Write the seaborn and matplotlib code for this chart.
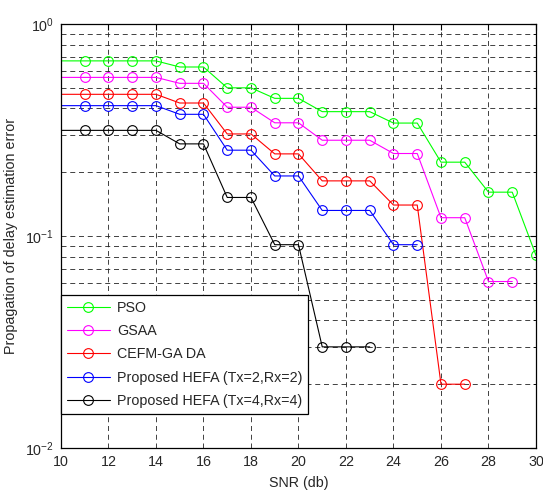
import numpy as np
import pandas as pd
import seaborn as sns
import matplotlib.pyplot as plt
from matplotlib.ticker import LogLocator

# SNR points (line starts at 10, markers from 11)
snr_pso = [10, 11, 12, 13, 14, 15, 16, 17, 18, 19, 20, 21, 22, 23, 24, 25, 26, 27, 28, 29, 30]
pso = [0.67, 0.67, 0.67, 0.67, 0.67, 0.627, 0.627, 0.50, 0.50, 0.446, 0.446,
       0.386, 0.386, 0.386, 0.341, 0.341, 0.223, 0.223, 0.161, 0.161, 0.081]

snr_gsaa = [10, 11, 12, 13, 14, 15, 16, 17, 18, 19, 20, 21, 22, 23, 24, 25, 26, 27, 28, 29]
gsaa = [0.56, 0.56, 0.56, 0.56, 0.56, 0.525, 0.525, 0.405, 0.405, 0.342, 0.342,
        0.283, 0.283, 0.283, 0.245, 0.245, 0.122, 0.122, 0.061, 0.061]

snr_cefm = [10, 11, 12, 13, 14, 15, 16, 17, 18, 19, 20, 21, 22, 23, 24, 25, 26, 27]
cefm = [0.466, 0.466, 0.466, 0.466, 0.466, 0.424, 0.424, 0.303, 0.303, 0.244, 0.244,
        0.182, 0.182, 0.182, 0.140, 0.140, 0.020, 0.020]

snr_hefa2 = [10, 11, 12, 13, 14, 15, 16, 17, 18, 19, 20, 21, 22, 23, 24, 25]
hefa2 = [0.412, 0.412, 0.412, 0.412, 0.412, 0.375, 0.375, 0.254, 0.254, 0.192, 0.192,
         0.132, 0.132, 0.132, 0.091, 0.091]

snr_hefa4 = [10, 11, 12, 13, 14, 15, 16, 17, 18, 19, 20, 21, 22, 23]
hefa4 = [0.315, 0.315, 0.315, 0.315, 0.315, 0.272, 0.272, 0.152, 0.152, 0.091, 0.091,
         0.030, 0.030, 0.030]

labels = ["PSO", "GSAA", "CEFM-GA DA",
          "Proposed HEFA (Tx=2,Rx=2)", "Proposed HEFA (Tx=4,Rx=4)"]
colors = ["#00ff00", "#ff00ff", "#ff0000", "#0000ff", "#000000"]

sns.set_style("white")
plt.rcParams['font.family'] = ['Liberation Sans', 'DejaVu Sans']
plt.rcParams['mathtext.fontset'] = 'custom'
plt.rcParams['mathtext.rm'] = 'Liberation Sans'

fs = 10.3
fig = plt.figure(figsize=(5.43, 4.92), dpi=100)
ax = fig.add_axes([0.1123, 0.0894, 0.8748, 0.8618])

series = [(snr_pso, pso), (snr_gsaa, gsaa), (snr_cefm, cefm),
          (snr_hefa2, hefa2), (snr_hefa4, hefa4)]
for (x, y), lab, c in zip(series, labels, colors):
    df = pd.DataFrame({"snr": x, "err": y})
    sns.lineplot(data=df, x="snr", y="err", ax=ax, color=c, label=lab,
                 marker="o", markersize=7, markerfacecolor="none",
                 markeredgecolor=c, markeredgewidth=0.8, linewidth=0.8,
                 markevery=list(range(1, len(x))))

ax.set_yscale("log")
ax.set_xlim(10, 30)
ax.set_ylim(0.01, 1)
ax.set_xticks(np.arange(10, 31, 2))
ax.yaxis.set_major_locator(LogLocator(base=10, numticks=5))
ax.yaxis.set_minor_locator(LogLocator(base=10, subs=np.arange(2, 10), numticks=20))

grid_kw = dict(color="#222222", linestyle=(0, (6, 4.5)), linewidth=0.6)
ax.grid(True, which="major", **grid_kw)
ax.grid(True, which="minor", axis="y", **grid_kw)

ax.tick_params(axis="both", which="both", direction="in", top=True, right=True,
               labelsize=fs, color="black")
ax.tick_params(which="major", length=4, pad=5)
ax.tick_params(which="minor", length=2)
for s in ax.spines.values():
    s.set_color("black")
    s.set_linewidth(0.9)

ax.set_xlabel("SNR (db)", fontsize=fs, labelpad=5)
ax.set_ylabel("Propagation of delay estimation error", fontsize=fs, labelpad=5)

leg = ax.legend(loc="lower left", bbox_to_anchor=(0, 0.08), borderaxespad=0,
                fontsize=fs, fancybox=False, edgecolor="black", framealpha=1,
                handlelength=3.0, handletextpad=0.5, labelspacing=0.66,
                borderpad=0.4)
leg.get_frame().set_linewidth(0.9)

fig.savefig("out.png", dpi=100)
